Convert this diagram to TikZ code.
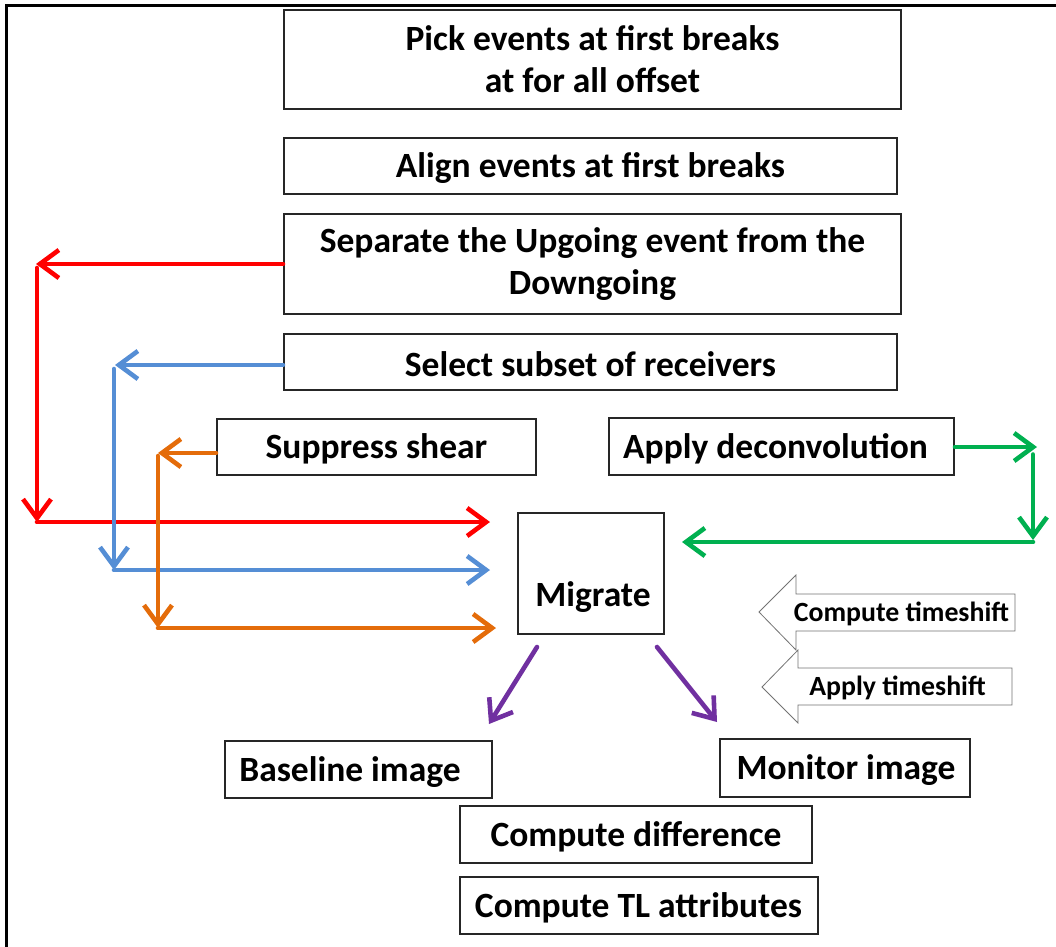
\documentclass[tikz,border=0pt]{standalone}
\usepackage{fontspec}
\setmainfont{Carlito}
\usetikzlibrary{arrows.meta}
\definecolor{cred}{RGB}{255,0,0}
\definecolor{cblue}{RGB}{85,142,213}
\definecolor{corange}{RGB}{228,108,10}
\definecolor{cgreen}{RGB}{0,176,80}
\definecolor{cpurple}{RGB}{112,48,160}
\tikzset{
  box/.style={draw=black!85, line width=2pt, inner sep=0pt, align=center,
    font=\fontsize{35.5}{42}\selectfont\bfseries},
  lbl/.style={inner sep=0pt, font=\fontsize{35.5}{42}\selectfont\bfseries},
  small/.style={inner sep=0pt, font=\fontsize{27.8}{32}\selectfont\bfseries},
  flow/.style={line width=4.6pt, line cap=round,
    -{Straight Barb[length=19pt,width=28pt,line width=4.6pt]}},
  blockarrow/.style={draw=black!55, line width=0.8pt, fill=white},
}
\begin{document}
\begin{tikzpicture}[x=1pt,y=-1pt]
\useasboundingbox (0,0) rectangle (1056,946);
% outer frame (left and top edges)
\draw[line width=3pt] (6,960) -- (6,5) -- (1070,5);

% process boxes
\node[box, minimum width=617pt, minimum height=99pt] (pick) at (592.5,59.5)
  {Pick events at first breaks\\at for all offset};
\node[box, minimum width=613pt, minimum height=56pt] (align) at (590.5,166) {};
\node[lbl] (alignt) at (590.5,168) {Align events at first breaks};
\node[box, minimum width=617pt, minimum height=100pt] (sep) at (592.5,264)
  {Separate the Upgoing event from the\\Downgoing};
\node[box, minimum width=613pt, minimum height=56pt] (sel) at (590.5,362) {};
\node[lbl] (selt) at (590.5,364) {Select subset of receivers};
\node[box, minimum width=319pt, minimum height=56pt] (sup) at (376.5,447) {};
\node[lbl] (supt) at (376.5,449) {Suppress shear};
\node[box, minimum width=345pt, minimum height=57pt] (dec) at (781.5,446.5) {};
\node[lbl] (dect) at (775.5,448.5) {Apply deconvolution};
\node[box, minimum width=146pt, minimum height=121pt] (mig) at (591,573.5) {};
\node[lbl] (migt) at (593,597) {Migrate};
\node[box, minimum width=267pt, minimum height=57pt] (base) at (358.5,769.5) {};
\node[lbl] (baset) at (350,772) {Baseline image};
\node[box, minimum width=250pt, minimum height=58pt] (mon) at (845,768) {};
\node[lbl] (mont) at (846,770) {Monitor image};
\node[box, minimum width=352pt, minimum height=57pt] (diff) at (636,834.5) {};
\node[lbl] (difft) at (636,836.5) {Compute difference};
\node[box, minimum width=358pt, minimum height=57pt] (tl) at (639,905.5) {};
\node[lbl] (tlt) at (638.5,907.5) {Compute TL attributes};

% block arrows for the timeshift steps
\draw[blockarrow] (1015,594) -- (796,594) -- (796,575) -- (759,612)
  -- (796,650) -- (796,631) -- (1015,631) -- cycle;
\node[small] (cts) at (901.5,614) {Compute timeshift};
\draw[blockarrow] (1012,668) -- (798,668) -- (798,650) -- (762,687)
  -- (798,723) -- (798,705) -- (1012,705) -- cycle;
\node[small] (ats) at (897.5,688) {Apply timeshift};

% corner points of the routed connectors
\coordinate (r1) at (36,264);
\coordinate (r2) at (37,522);
\coordinate (r3) at (490,522);
\coordinate (b1) at (115,365);
\coordinate (b2) at (114,570);
\coordinate (b3) at (490,570);
\coordinate (o1) at (158,453);
\coordinate (o2) at (158,628);
\coordinate (o3) at (496,628);
\coordinate (g1) at (1037,447);
\coordinate (g2) at (1033,540);
\coordinate (g3) at (682,542);
\coordinate (p1) at (537,647);
\coordinate (p2) at (489,724);
\coordinate (p3) at (657,647);
\coordinate (p4) at (717,722);

% red: separation branch
\draw[flow, cred] (sep.west) -- (r1);
\draw[flow, cred] (r2 |- r1) ++(0,4) -- (r2);
\draw[flow, cred] (r2) -- (r3);
% blue: receiver subset branch
\draw[flow, cblue] (sel.west |- b1) -- (b1);
\draw[flow, cblue] (b2 |- b1) ++(0,4) -- (b2);
\draw[flow, cblue] (b2) -- (b3);
% orange: shear suppression branch
\draw[flow, corange] (sup.west |- o1) -- (o1);
\draw[flow, corange] (o1) ++(0,3) -- (o2);
\draw[flow, corange] (o2) -- (o3);
% green: deconvolution branch
\draw[flow, cgreen] (dec.east |- g1) -- (g1);
\draw[flow, cgreen] (g2 |- dec.east) ++(0,8) -- (g2);
\draw[flow, cgreen] (g2 |- g3) -- (g3);
% purple: migration outputs
\draw[flow, cpurple] (p1) -- (p2);
\draw[flow, cpurple] (p3) -- (p4);
\end{tikzpicture}
\end{document}
